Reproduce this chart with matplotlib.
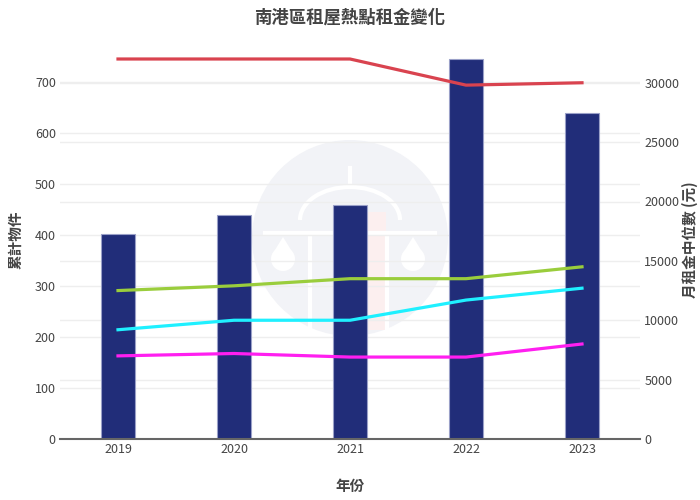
import matplotlib
matplotlib.use("Agg")
import matplotlib.pyplot as plt
import matplotlib.patches as mpatches
import matplotlib.transforms as mtransforms
import numpy as np

years = ["2019", "2020", "2021", "2022", "2023"]
listings = [403, 440, 459, 746, 640]

rent_red = [32000, 32000, 32000, 29800, 30000]
rent_green = [12500, 12900, 13500, 13500, 14500]
rent_cyan = [9200, 10000, 10000, 11700, 12700]
rent_magenta = [7000, 7200, 6900, 6900, 8000]

left_ticks = [0, 100, 200, 300, 400, 500, 600, 700]
right_ticks = [0, 5000, 10000, 15000, 20000, 25000, 30000]

plt.rcParams["font.family"] = ["Noto Sans CJK TC", "DejaVu Sans"]
text_color = "#444444"
grid_color = "#eeeeee"

fig = plt.figure(figsize=(7, 5), dpi=100)

# faint watermark behind the plot
bg = fig.add_axes([0, 0, 1, 1], zorder=0)
bg.set_xlim(0, 700)
bg.set_ylim(500, 0)
bg.axis("off")
bg.add_patch(mpatches.Circle((350, 238), 98, color="#f2f3f7", lw=0))
bg.add_patch(mpatches.Rectangle((364, 212), 22, 118, color="#fcefef", lw=0))
bg.add_patch(mpatches.Arc((350, 220), 100, 66, theta1=180, theta2=360, color="white", lw=3))
bg.plot([265, 435], [233, 233], color="white", lw=3)
bg.plot([350, 350], [168, 184], color="white", lw=3)
bg.plot([310, 310], [236, 330], color="white", lw=3)
bg.plot([387, 387], [236, 330], color="white", lw=3)
for cx in (283, 413):
    bg.add_patch(mpatches.Circle((cx, 259), 12, color="white", lw=0))
    bg.add_patch(mpatches.Polygon([[cx - 10.5, 254], [cx + 10.5, 254], [cx, 237]], color="white", lw=0))

ax = fig.add_axes([60 / 700, 61 / 500, 580 / 700, 399 / 500], zorder=1)
ax.patch.set_visible(False)
ax2 = ax.twinx()

x = np.arange(len(years))
ax.bar(x, listings, width=0.3, color="#212d79", edgecolor="#9aa0c8", linewidth=0.8, zorder=2)
ax.set_xlim(-0.5, len(years) - 0.5)
ax.set_ylim(0, 783)
ax2.set_ylim(0, 33600)

ax2.plot(x, rent_red, color="#d9434f", lw=2.3)
ax2.plot(x, rent_green, color="#9acd3c", lw=2.3)
ax2.plot(x, rent_cyan, color="#1ff0ff", lw=2.3)
ax2.plot(x, rent_magenta, color="#ff1ff0", lw=2.3)

# gridlines for both y axes, kept underneath all marks
for t in left_ticks[1:]:
    ax.axhline(t, color=grid_color, lw=1, zorder=0)
blend = mtransforms.blended_transform_factory(ax.transAxes, ax2.transData)
for t in right_ticks[1:]:
    ax.plot([0, 1], [t, t], transform=blend, color=grid_color, lw=1, zorder=0)
ax.axhline(0, color="#666666", lw=1.5, zorder=3, clip_on=False)

ax.set_yticks(left_ticks)
ax2.set_yticks(right_ticks)
ax.set_xticks(x)
ax.set_xticklabels(years)
ax.tick_params(axis="both", length=0, labelsize=9, labelcolor=text_color, pad=3)
ax2.tick_params(axis="y", length=0, labelsize=9, labelcolor=text_color, pad=3)

for a in (ax, ax2):
    for where in ["top", "right", "bottom", "left"]:
        a.spines[where].set_visible(False)

ax.set_xlabel("年份", fontsize=10.5, fontweight="bold", color=text_color, labelpad=16)
ax.set_ylabel("累計物件", fontsize=10.5, fontweight="bold", color=text_color, labelpad=8)
ax2.set_ylabel("月租金中位數 (元)", fontsize=10.5, fontweight="bold", color=text_color, labelpad=2)

fig.text(0.5, 0.965, "南港區租屋熱點租金變化", ha="center", va="center",
         fontsize=12.5, fontweight="bold", color=text_color)

plt.savefig("out.png", dpi=100)
